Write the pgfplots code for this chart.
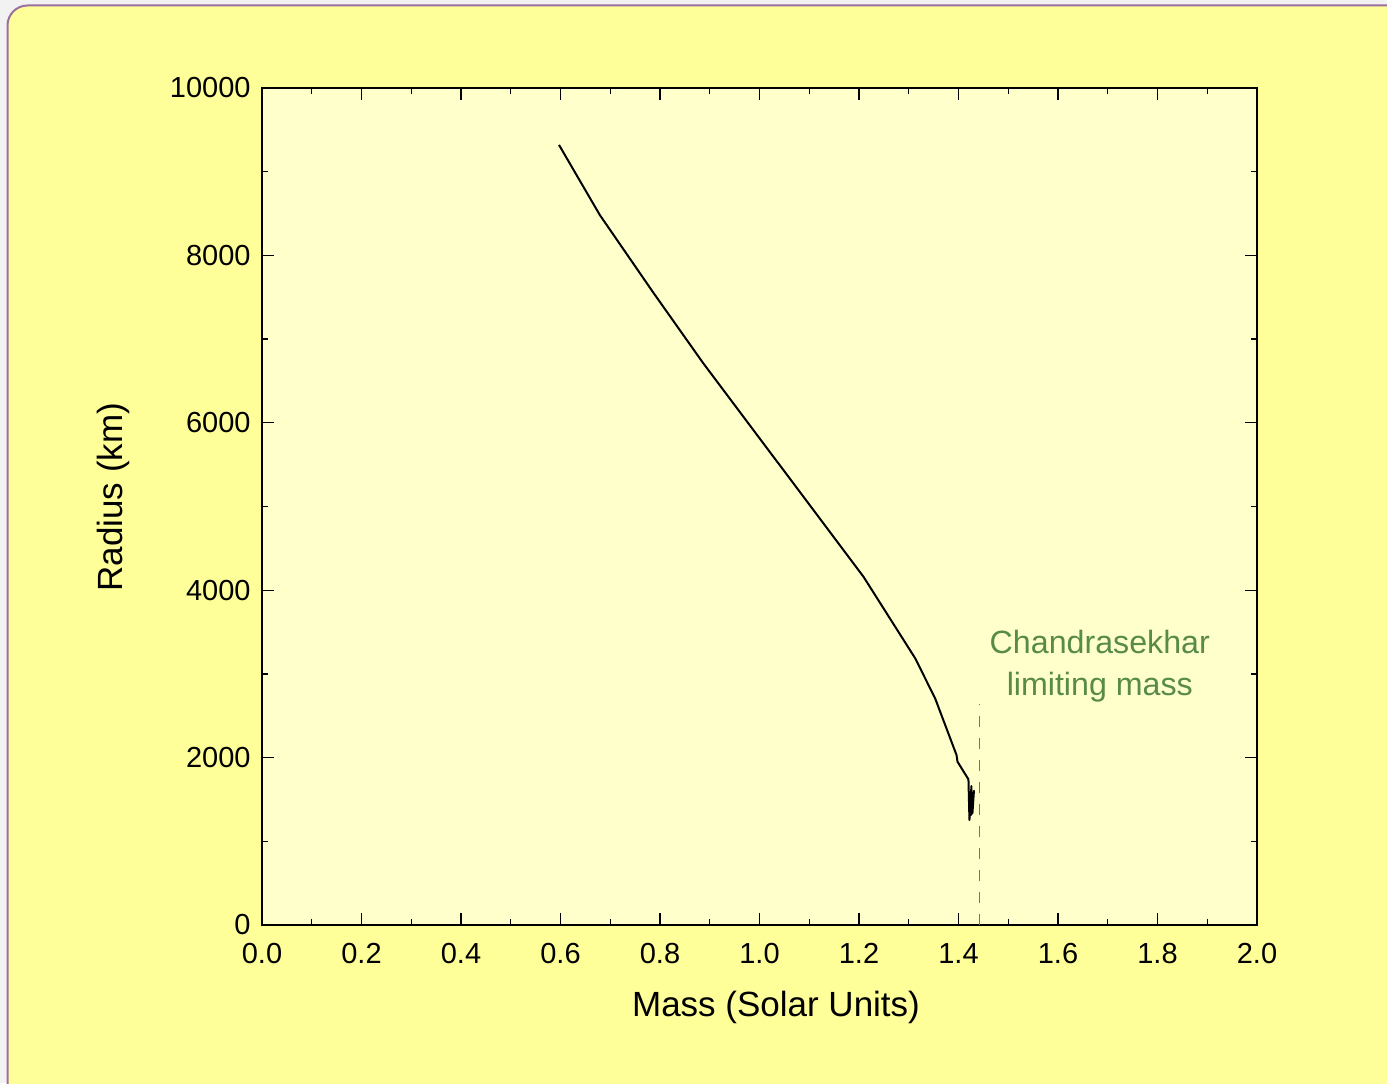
\documentclass[border=0pt]{standalone}
\usepackage{fontspec}
\setmainfont{Liberation Sans}
\usepackage{pgfplots}
\pgfplotsset{compat=1.18}
\definecolor{pagegray}{HTML}{F2F2F2}
\definecolor{outerY}{HTML}{FFFF99}
\definecolor{plotY}{HTML}{FFFFCC}
\definecolor{borderP}{HTML}{9B6FA0}
\definecolor{chgreen}{RGB}{88,138,72}
\begin{document}
\begin{tikzpicture}[x=0.5pt,y=0.5pt]
\useasboundingbox (0,0) rectangle (1387,1083);
\fill[pagegray] (0,0) rectangle (1387,1083);
\clip (0,0) rectangle (1387,1083);
\draw[fill=outerY, draw=borderP, line width=1pt, rounded corners=10pt] (7.5,-30) rectangle (1420,1077.5);
\begin{axis}[
  at={(131pt,79pt)}, anchor=south west,
  scale only axis, width=497.5pt, height=418.5pt,
  xmin=0, xmax=2, ymin=0, ymax=10000,
  xtick={0,0.2,...,2.01}, minor x tick num=1,
  ytick={0,2000,...,10000}, minor y tick num=1,
  scaled y ticks=false, scaled x ticks=false,
  tick align=inside, major tick length=6pt, minor tick length=3pt,
  tick style={black, line width=0.6pt},
  axis background/.style={fill=plotY},
  axis line style={line width=0.8pt},
  /pgf/number format/assume math mode=true,
  xticklabel style={/pgf/number format/.cd, fixed, fixed zerofill, precision=1, /tikz/.cd, yshift=-5.5pt},
  yticklabel style={/pgf/number format/.cd, fixed, precision=0, 1000 sep={}, /tikz/.cd, xshift=-2.2pt},
  tick label style={font=\fontsize{14.5}{17}\selectfont},
  label style={font=\fontsize{17.5}{21}\selectfont},
  xlabel={Mass (Solar Units)}, ylabel={Radius (km)},
  xlabel style={at={(axis description cs:0.5166,-0.0985)}, anchor=center},
  ylabel style={at={(axis description cs:-0.1497,0.511)}, anchor=center},
  clip=false,
]
\addplot[black, line width=1pt, line join=round] coordinates {
(0.597,9320) (0.679,8483) (0.786,7560) (0.887,6711) (1.048,5436) (1.209,4161)
(1.313,3186) (1.353,2708) (1.396,2031) (1.398,1951) (1.420,1740)
(1.422,1254) (1.426,1660) (1.425,1314) (1.431,1603) (1.428,1333) (1.430,1560)
};
\addplot[chgreen, line width=0.7pt, dash pattern=on 5.5pt off 5.5pt] coordinates {(1.442,0) (1.442,2640)};
\node[text=chgreen, align=center, font=\fontsize{16.1}{21}\selectfont] at (axis cs:1.684,3090) {Chandrasekhar\\limiting mass};
\end{axis}
\end{tikzpicture}
\end{document}
